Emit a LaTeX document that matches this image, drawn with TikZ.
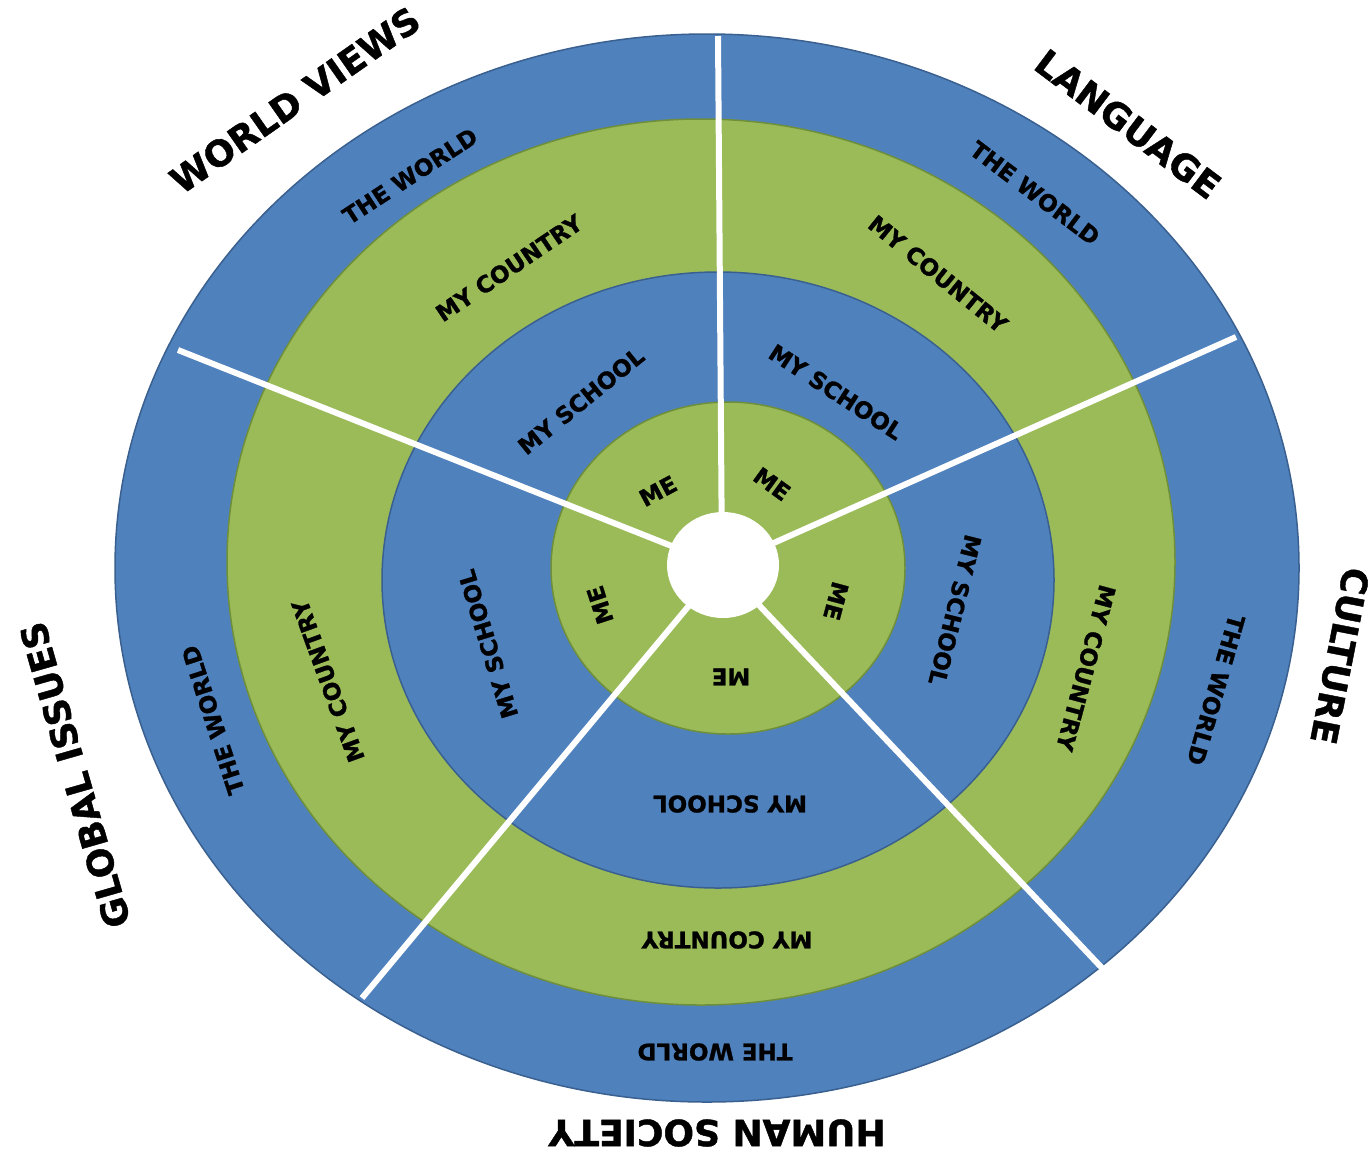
\documentclass[tikz,border=0pt]{standalone}
\usepackage{fontspec}
\setmainfont{DejaVu Sans}
\newfontfamily\heavyfont[FakeBold=1.2]{DejaVu Sans Bold}
\definecolor{ringblue}{HTML}{4F81BD}
\definecolor{ringgreen}{HTML}{9BBB59}
\definecolor{blueedge}{HTML}{3A6090}
\definecolor{greenedge}{HTML}{6F8F3A}
\begin{document}
\begin{tikzpicture}[x=1pt,y=-1pt,
  ringlab/.style={font=\heavyfont\fontsize{23}{26}\selectfont, inner sep=0pt, text=black},
  sectlab/.style={font=\heavyfont\fontsize{36}{40}\selectfont, inner sep=0pt, text=black},
  divider/.style={white, line width=6pt},
  bluering/.style={fill=ringblue, draw=blueedge, line width=1.5pt},
  greenring/.style={fill=ringgreen, draw=greenedge, line width=1.5pt}]
\useasboundingbox[fill=white] (0,0) rectangle (1372,1152);

% rings
\path[bluering]  (707,568) ellipse [x radius=592pt, y radius=534pt];
\path[greenring] (701,562) ellipse [x radius=474pt, y radius=443pt];
\path[bluering]  (718,580) ellipse [x radius=336pt, y radius=308pt];
\path[greenring] (728,568) ellipse [x radius=177pt, y radius=166pt];

% dividers
\coordinate (c) at (722,566);
\coordinate (e1) at (718,36);
\coordinate (e2) at (1236,337);
\coordinate (e3) at (178,350);
\coordinate (e4) at (362,998);
\coordinate (e5) at (1102,968);
\draw[divider] (c) -- (e1);
\draw[divider] (c) -- (e2);
\draw[divider] (c) -- (e3);
\draw[divider] (c) -- (e4);
\draw[divider] (c) -- (e5);

% centre hole
\fill[white] (723,565) ellipse [x radius=56pt, y radius=53pt];

% sector titles
\node[sectlab, rotate=35]   (wv)   at (295,100)  {WORLD VIEWS};
\node[sectlab, rotate=-37]  (lang) at (1128,124) {LANGUAGE};
\node[sectlab, rotate=-101] (cult) at (1340,656) {CULTURE};
\node[sectlab, rotate=180]  (hs)   at (717,1133) {HUMAN SOCIETY};
\node[sectlab, rotate=106]  (gi)   at (75,775)   {GLOBAL ISSUES};

% world views sector
\node[ringlab, rotate=33] (wvtw) at (410,176) {THE WORLD};
\node[ringlab, rotate=34] (wvmc) at (509,268) {MY COUNTRY};
\node[ringlab, rotate=39] (wvms) at (581,401) {MY SCHOOL};
\node[ringlab, rotate=28] (wvme) at (658,491) {ME};

% language sector
\node[ringlab, rotate=-37] (latw) at (1035,193) {THE WORLD};
\node[ringlab, rotate=-39] (lamc) at (938,274)  {MY COUNTRY};
\node[ringlab, rotate=-33] (lams) at (836,392)  {MY SCHOOL};
\node[ringlab, rotate=-36] (lame) at (772,484)  {ME};

% culture sector
\node[ringlab, rotate=-105] (cume) at (836,601)  {ME};
\node[ringlab, rotate=-104] (cums) at (955,610)  {MY SCHOOL};
\node[ringlab, rotate=-105] (cumc) at (1086,668) {MY COUNTRY};
\node[ringlab, rotate=-106] (cutw) at (1216,690) {THE WORLD};

% human society sector
\node[ringlab, rotate=180] (hsme) at (731,677)  {ME};
\node[ringlab, rotate=180] (hsms) at (730,804)  {MY SCHOOL};
\node[ringlab, rotate=180] (hsmc) at (727,940)  {MY COUNTRY};
\node[ringlab, rotate=180] (hstw) at (715,1052) {THE WORLD};

% global issues sector
\node[ringlab, rotate=108] (gime) at (600,605) {ME};
\node[ringlab, rotate=107] (gims) at (488,644) {MY SCHOOL};
\node[ringlab, rotate=110] (gimc) at (328,681) {MY COUNTRY};
\node[ringlab, rotate=108] (gitw) at (213,720) {THE WORLD};
\end{tikzpicture}
\end{document}
